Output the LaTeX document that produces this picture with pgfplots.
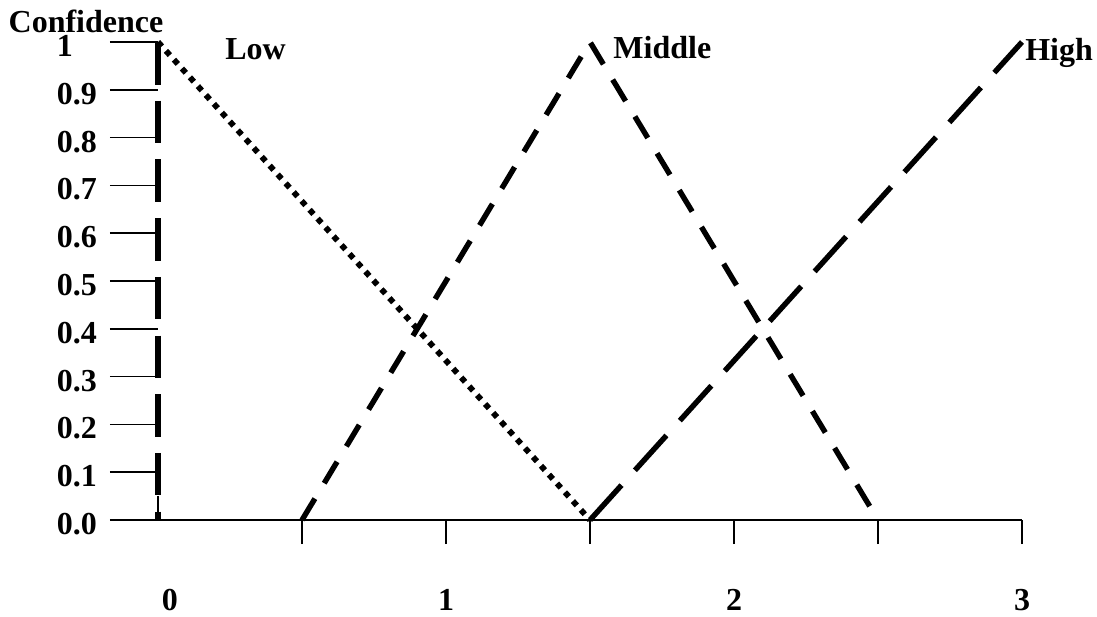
\documentclass[border=0pt]{standalone}
\usepackage{fontspec}
\setmainfont{Liberation Serif}
\usepackage{pgfplots}
\pgfplotsset{compat=1.18}

\begin{document}
\begin{tikzpicture}[font=\fontsize{16}{18}\selectfont\bfseries]
\begin{axis}[
  x=144pt, y=239pt,
  xmin=0, xmax=3, ymin=0, ymax=1,
  axis x line=bottom, axis y line=left,
  axis line style={-, line width=0.8pt},
  y axis line style={draw=none},
  clip=false,
  tick align=outside,
  major tick length=24pt,
  tick style={black, line width=0.8pt},
  xtick style={/pgfplots/major tick length=12pt},
  xtick={0.5,1,1.5,2,2.5,3},
  xticklabels={,1,,2,,3},
  extra x ticks={0},
  extra x tick labels={0},
  extra x tick style={tick style={draw=none}, xticklabel style={xshift=6pt}},
  ytick={0,0.1,0.2,0.3,0.4,0.5,0.6,0.7,0.8,0.9,1},
  yticklabels={0.0,0.1,0.2,0.3,0.4,0.5,0.6,0.7,0.8,0.9,1},
  tick label style={font=\fontsize{16}{18}\selectfont\bfseries},
  xticklabel style={yshift=-7pt},
  yticklabel style={text width=21pt, align=left, xshift=-2pt, yshift=-2pt},
]
% y axis drawn as a thick dashed line
\draw[line width=2.6pt, dash pattern=on 21.25pt off 8.1pt] (axis cs:0,1) -- (axis cs:0,0);
\draw[line width=0.8pt] (axis cs:0,0) -- (axis cs:0,0.05);
% Low
\addplot[black, line width=2.9pt, dash pattern=on 2.9pt off 3.05pt] coordinates {(0,1) (1.5,0)};
% Middle
\addplot[black, line width=2.7pt, dash pattern=on 12.5pt off 9pt] coordinates {(0.5,0) (1.5,1) (2.5,0)};
% High
\addplot[black, line width=2.7pt, dash pattern=on 23.5pt off 10pt] coordinates {(1.5,0) (3,1)};
\node[anchor=base west, inner sep=0pt] at (axis cs:0.2326,0.9644) {Low};
\node[anchor=base west, inner sep=0pt] at (axis cs:1.580,0.9665) {Middle};
\node[anchor=base west, inner sep=0pt] at (axis cs:3.010,0.962) {High};
\node[anchor=base, inner sep=0pt] at (axis cs:-0.25,1.019) {Confidence};
\coordinate (bl) at (axis cs:-0.5486,-0.2008);
\coordinate (tr) at (axis cs:3.2604,1.0879);
\end{axis}
\pgfresetboundingbox
\useasboundingbox (bl) rectangle (tr);
\end{tikzpicture}
\end{document}
